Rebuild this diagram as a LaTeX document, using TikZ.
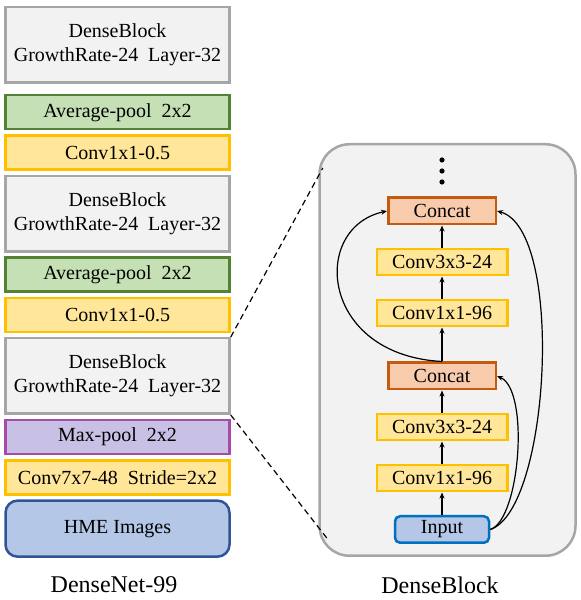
\documentclass[tikz,border=0pt]{standalone}
\usepackage{fontspec}
\setmainfont{Liberation Serif}
\definecolor{mygray}{RGB}{166,166,166}
\definecolor{mygrayfill}{RGB}{242,242,242}
\definecolor{mygreen}{RGB}{84,130,53}
\definecolor{mygreenfill}{RGB}{197,224,180}
\definecolor{myyellow}{RGB}{255,192,0}
\definecolor{myyellowfill}{RGB}{255,230,153}
\definecolor{mypurple}{RGB}{166,76,168}
\definecolor{mypurplefill}{RGB}{201,192,230}
\definecolor{mynavy}{RGB}{47,85,151}
\definecolor{myblue}{RGB}{0,112,192}
\definecolor{mybluefill}{RGB}{180,199,231}
\definecolor{myorange}{RGB}{197,90,17}
\definecolor{myorangefill}{RGB}{248,203,173}
\usetikzlibrary{positioning,chains,calc,arrows.meta}

\begin{document}
\begin{tikzpicture}[x=1pt,y=1pt,
  every node/.style={line width=2.5pt,font=\fontsize{20}{24}\selectfont},
  blocknode/.style={draw=mygray,fill=mygrayfill,minimum width=224pt,minimum height=75.5pt,align=center},
  poolnode/.style={draw=mygreen,fill=mygreenfill,minimum width=224pt,minimum height=34pt},
  maxnode/.style={draw=mypurple,fill=mypurplefill,minimum width=224pt,minimum height=34pt},
  convnode/.style={draw=myyellow,fill=myyellowfill,minimum width=224pt,minimum height=34pt},
  imgnode/.style={draw=mynavy,fill=mybluefill,rounded corners=12pt,minimum width=224pt,minimum height=56pt},
  layernode/.style={draw=myyellow,fill=myyellowfill,minimum width=130.5pt,minimum height=26pt},
  catnode/.style={draw=myorange,fill=myorangefill,minimum width=107.5pt,minimum height=26.5pt},
  innode/.style={draw=myblue,fill=mybluefill,rounded corners=5pt,minimum width=94pt,minimum height=26.5pt},
  title/.style={font=\fontsize{24}{28}\selectfont},
  link/.style={line width=1.2pt,-{Stealth[length=6pt,width=5pt]}},
  zoomline/.style={line width=1.2pt,dash pattern=on 6pt off 4pt}
]
\useasboundingbox (0,0) rectangle (581,600);

% DenseNet
\node[blocknode] (d1) at (117.5,555) {DenseBlock\\GrowthRate-24\ \ Layer-32};
\begin{scope}[start chain=going below,node distance=3.8pt]
\node[poolnode,on chain,below=10pt of d1] (a1) {Average-pool\ \ 2x2};
\node[convnode,on chain] (c1) {Conv1x1-0.5};
\node[blocknode,on chain] (d2) {DenseBlock\\GrowthRate-24\ \ Layer-32};
\node[poolnode,on chain] (a2) {Average-pool\ \ 2x2};
\node[convnode,on chain] (c2) {Conv1x1-0.5};
\node[blocknode,on chain] (d3) {DenseBlock\\GrowthRate-24\ \ Layer-32};
\node[maxnode,on chain] (m1) {Max-pool\ \ 2x2};
\node[convnode,on chain] (c0) {Conv7x7-48\ \ Stride=2x2};
\node[imgnode,on chain] (img) {HME Images};
\end{scope}
\node[title] (net) at (114,15) {DenseNet-99};

% DenseBlock
\node[draw=mygray,fill=mygrayfill,rounded corners=30pt,minimum width=256pt,minimum height=411.5pt] (blk) at (447.5,250) {};
\begin{scope}[start chain=going above,node distance=22.5pt]
\node[innode,on chain] (in) at (442,70.5) {Input};
\node[layernode,on chain] (l1) {Conv1x1-96};
\node[layernode,on chain] (l2) {Conv3x3-24};
\node[catnode,on chain] (cat1) {Concat};
\node[layernode,on chain,above=34pt of cat1] (l3) {Conv1x1-96};
\node[layernode,on chain] (l4) {Conv3x3-24};
\node[catnode,on chain] (cat2) {Concat};
\end{scope}
\foreach \y in {440,429,418}
  \fill (442,\y) circle (2.6pt);
\node[title] (blkname) at (440,15) {DenseBlock};

% Edges
\draw[link] (in) -- (l1);
\draw[link] (l1) -- (l2);
\draw[link] (l2) -- (cat1);
\draw[link] (cat1) -- (l3);
\draw[link] (l3) -- (l4);
\draw[link] (l4) -- (cat2);
\draw[link] (cat1.north) .. controls (320,245) and (310,372) .. (cat2.west);
\draw[link] (in.east) .. controls (520,80) and (530,210) .. (cat1.east);
\draw[link] (in.east) .. controls (550,90) and (565,370) .. (cat2.east);

% Zoom
\coordinate (zt) at ($(blk.north west)+(4.5,-25)$);
\coordinate (zb) at ($(blk.south west)+(8.5,19)$);
\draw[zoomline] (d3.north east) -- (zt);
\draw[zoomline] (d3.south east) -- (zb);
\end{tikzpicture}
\end{document}
